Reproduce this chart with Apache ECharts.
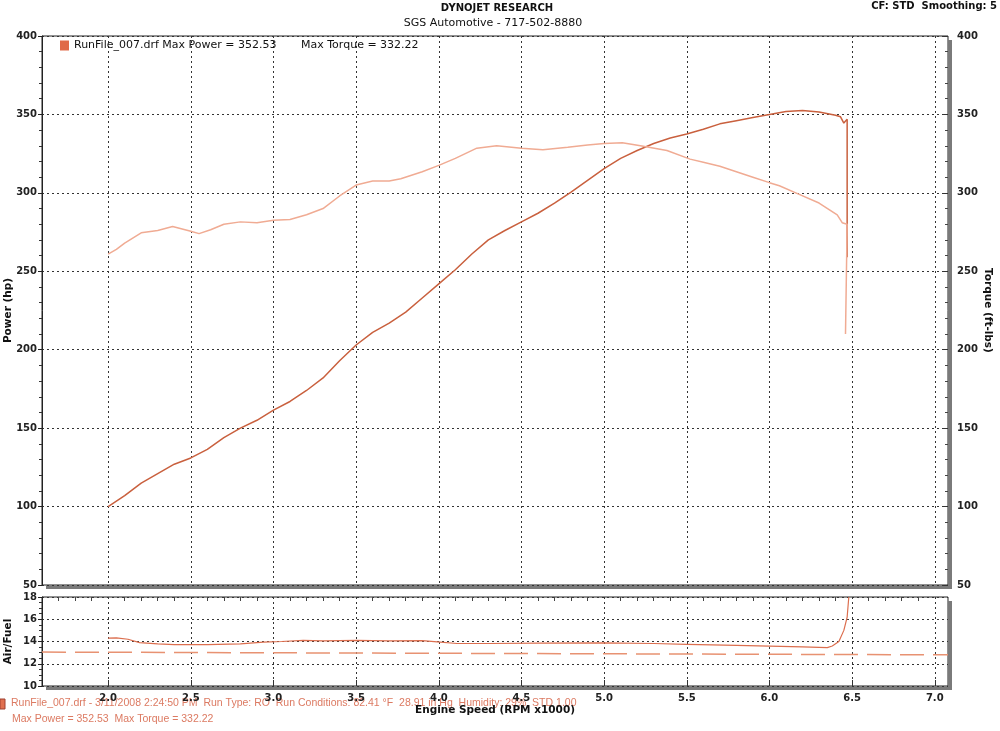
<!DOCTYPE html>
<html>
<head>
<meta charset="utf-8">
<script src="https://cdn.jsdelivr.net/npm/echarts@6/dist/echarts.min.js"></script>
<style>
html,body{margin:0;padding:0;background:#fff;}
#c{width:1000px;height:731px;}
</style>
</head>
<body>
<div id="c"></div>
<script>
// ---- data ----
const xTickValues = [2.0, 2.5, 3.0, 3.5, 4.0, 4.5, 5.0, 5.5, 6.0, 6.5, 7.0];
const powerRpm = [2.00,2.10,2.20,2.30,2.40,2.50,2.60,2.70,2.80,2.90,3.00,3.10,3.20,3.30,3.40,3.50,3.60,3.70,3.80,3.90,4.00,4.10,4.20,4.30,4.40,4.50,4.60,4.70,4.80,4.90,5.00,5.10,5.20,5.30,5.40,5.50,5.60,5.70,5.80,5.90,6.00,6.10,6.20,6.30,6.40,6.43,6.45,6.47,6.48,6.47];
const powerHp = [100,107,115,121,127,131,136.5,144,150,155,161.5,167,174,182,193,203,211,217,224,233,242,251,261,270,276,281.5,287,293.5,300.5,308,315.5,322,327,331.5,335,337.5,340.5,344,346,348,350,351.8,352.5,351.5,349.5,348.5,344.5,347,348.2,259];
const torqueRpm = [2.00,2.05,2.10,2.20,2.30,2.39,2.50,2.55,2.62,2.70,2.80,2.90,3.00,3.10,3.20,3.30,3.40,3.50,3.60,3.70,3.77,3.90,4.00,4.10,4.23,4.35,4.50,4.63,4.78,4.90,5.00,5.11,5.22,5.38,5.52,5.60,5.70,5.80,5.90,6.00,6.06,6.18,6.30,6.41,6.44,6.47,6.46];
const torqueFtLbs = [261,264,268,274.5,276,278.5,275.5,274,276.5,280,281.5,281,282.5,283,286,290,298,305,307.5,307.5,309,313.5,317.5,322,328.5,330,328.5,327.5,329,330.5,331.5,332,330,327,321.5,319.5,317,313.5,310,306.5,304.5,299,293.5,286,281,280,210];
const afrRpm = [2.00,2.05,2.12,2.19,2.30,2.40,2.60,2.80,2.94,3.05,3.18,3.30,3.50,3.70,3.90,3.99,4.11,4.30,4.60,5.00,5.30,5.50,5.80,6.00,6.20,6.35,6.38,6.42,6.45,6.47,6.48];
const afrValues = [14.3,14.33,14.2,13.9,13.78,13.72,13.72,13.78,13.95,14.0,14.1,14.05,14.1,14.05,14.08,13.97,13.82,13.82,13.85,13.88,13.82,13.75,13.65,13.58,13.52,13.45,13.6,14.0,15.0,16.2,18];
const targetRpm = [1.6, 7.08];
const targetAfr = [13.05, 12.8];

const zip = (a, b) => a.map((v, i) => [v, b[i]]);
const minorX = [];
for (let v = 17; v <= 70; v++) { if (v % 5 !== 0) minorX.push(v / 10); }

const F = 'DejaVu Sans';
const dotted = { color: '#333', type: [2, 3], width: 1 };
const shadowFill = { fill: '#7a7a7a' };

const chart = echarts.init(document.getElementById('c'), null, { renderer: 'canvas' });
chart.setOption({
  animation: false,
  backgroundColor: '#fff',
  graphic: [
    { type: 'text', x: 497, y: 3, style: { text: 'DYNOJET RESEARCH', font: 'bold 10px ' + F, fill: '#111', textAlign: 'center' } },
    { type: 'text', x: 493, y: 18, style: { text: 'SGS Automotive - 717-502-8880', font: '11px ' + F, fill: '#111', textAlign: 'center' } },
    { type: 'text', x: 997, y: 1, style: { text: 'CF: STD  Smoothing: 5', font: 'bold 10px ' + F, fill: '#111', textAlign: 'right' } },
    // frame drop shadows (decoration)
    { type: 'rect', shape: { x: 46, y: 585, width: 906, height: 4 }, style: shadowFill, silent: true },
    { type: 'rect', shape: { x: 948, y: 40, width: 4, height: 549 }, style: shadowFill, silent: true },
    { type: 'rect', shape: { x: 46, y: 686, width: 906, height: 4 }, style: shadowFill, silent: true },
    { type: 'rect', shape: { x: 948, y: 601, width: 4, height: 89 }, style: shadowFill, silent: true },
    { type: 'rect', shape: { x: 0, y: 699, width: 5, height: 10 }, style: { fill: '#e07050', stroke: '#a04030' } },
    { type: 'text', x: 11, y: 698, style: { text: 'RunFile_007.drf - 3/11/2008 2:24:50 PM  Run Type: RO  Run Conditions: 82.41 \u00b0F  28.91 in Hg  Humidity: 29%  STD 1.00', font: '10.5px Liberation Sans', fill: '#dc7a62' } },
    { type: 'text', x: 12, y: 714, style: { text: 'Max Power = 352.53  Max Torque = 332.22', font: '10.5px Liberation Sans', fill: '#dc7a62' } }
  ],
  legend: {
    data: ['Power'],
    left: 55, top: 35,
    icon: 'rect', itemWidth: 9, itemHeight: 10, itemGap: 2,
    formatter: () => 'RunFile_007.drf Max Power = 352.53       Max Torque = 332.22',
    textStyle: { fontFamily: F, fontSize: 11, color: '#111' }
  },
  grid: [
    { left: 42, top: 36, width: 906, height: 549, outerBoundsMode: 'none', containLabel: false,
      show: true, backgroundColor: '#fff', borderColor: '#222', borderWidth: 1 },
    { left: 42, top: 597, width: 906, height: 89, outerBoundsMode: 'none', containLabel: false,
      show: true, backgroundColor: '#fff', borderColor: '#222', borderWidth: 1 }
  ],
  xAxis: [
    { gridIndex: 0, type: 'value', min: 1.6, max: 7.08,
      axisLine: { show: false }, axisLabel: { show: false },
      axisTick: { show: false, customValues: xTickValues },
      splitLine: { show: true, lineStyle: dotted } },
    { gridIndex: 1, type: 'value', min: 1.6, max: 7.08,
      axisLine: { show: false },
      axisTick: { show: true, inside: true, length: 6, customValues: xTickValues, lineStyle: { color: '#333' } },
      axisLabel: { show: true, customValues: xTickValues, formatter: v => v.toFixed(1), fontFamily: F, fontWeight: 'bold', fontSize: 10, color: '#222', margin: 7 },
      splitLine: { show: true, lineStyle: dotted },
      name: 'Engine Speed (RPM x1000)', nameLocation: 'middle', nameGap: 19, nameMoveOverlap: false,
      nameTextStyle: { fontFamily: F, fontWeight: 'bold', fontSize: 10.5, color: '#111' } },
    { gridIndex: 1, type: 'value', min: 1.6, max: 7.08,
      axisLine: { show: false }, axisLabel: { show: false }, splitLine: { show: false },
      axisTick: { show: true, inside: true, length: 4, customValues: minorX, lineStyle: { color: '#444' } } }
  ],
  yAxis: [
    { gridIndex: 0, type: 'value', min: 50, max: 400, interval: 50, position: 'left',
      axisLine: { show: true, lineStyle: { color: '#222' } },
      axisTick: { show: true, length: 4, lineStyle: { color: '#222' } },
      minorTick: { show: true, splitNumber: 5, length: 3, lineStyle: { color: '#333' } },
      axisLabel: { fontFamily: F, fontWeight: 'bold', fontSize: 10, color: '#222', margin: 5 },
      splitLine: { show: true, lineStyle: dotted },
      name: 'Power (hp)', nameLocation: 'middle', nameGap: 28, nameMoveOverlap: false,
      nameTextStyle: { fontFamily: F, fontWeight: 'bold', fontSize: 10.5, color: '#111' } },
    { gridIndex: 0, type: 'value', min: 50, max: 400, interval: 50, position: 'right',
      axisLine: { show: false },
      axisTick: { show: true, inside: true, length: 4, lineStyle: { color: '#333' } },
      minorTick: { show: true, splitNumber: 5, length: 3, lineStyle: { color: '#444' } },
      axisLabel: { fontFamily: F, fontWeight: 'bold', fontSize: 10, color: '#222', margin: 9 },
      splitLine: { show: false },
      name: 'Torque (ft-lbs)', nameLocation: 'middle', nameGap: 34, nameRotate: -90, nameMoveOverlap: false,
      nameTextStyle: { fontFamily: F, fontWeight: 'bold', fontSize: 10.5, color: '#111' } },
    { gridIndex: 1, type: 'value', min: 10, max: 18, interval: 2, position: 'left',
      axisLine: { show: true, lineStyle: { color: '#222' } },
      axisTick: { show: true, length: 4, lineStyle: { color: '#222' } },
      minorTick: { show: true, splitNumber: 4, length: 3, lineStyle: { color: '#333' } },
      axisLabel: { fontFamily: F, fontWeight: 'bold', fontSize: 10, color: '#222', margin: 5 },
      splitLine: { show: true, lineStyle: dotted },
      name: 'Air/Fuel', nameLocation: 'middle', nameGap: 28, nameMoveOverlap: false,
      nameTextStyle: { fontFamily: F, fontWeight: 'bold', fontSize: 10.5, color: '#111' } }
  ],
  series: [
    { name: 'Power', type: 'line', xAxisIndex: 0, yAxisIndex: 0, data: zip(powerRpm, powerHp),
      showSymbol: false, itemStyle: { color: '#e06a48', borderColor: '#8a3a25' },
      lineStyle: { color: '#c9603e', width: 1.5 } },
    { name: 'Torque', type: 'line', xAxisIndex: 0, yAxisIndex: 1, data: zip(torqueRpm, torqueFtLbs),
      showSymbol: false, lineStyle: { color: '#f0ab93', width: 1.5 }, itemStyle: { color: '#f0ab93' } },
    { name: 'Target', type: 'line', xAxisIndex: 1, yAxisIndex: 2, data: zip(targetRpm, targetAfr),
      showSymbol: false, lineStyle: { color: '#e89272', width: 1.5, type: [24, 9] } },
    { name: 'AFR', type: 'line', xAxisIndex: 1, yAxisIndex: 2, data: zip(afrRpm, afrValues),
      showSymbol: false, lineStyle: { color: '#dc6e4e', width: 1.2 } }
  ]
});
</script>
</body>
</html>
